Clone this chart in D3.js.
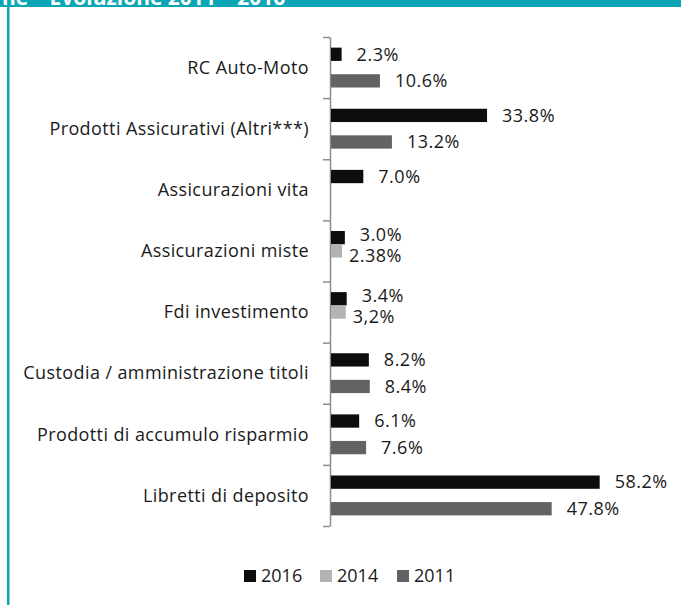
<!DOCTYPE html>
<html>
<head>
<meta charset="utf-8">
<script src="https://cdn.jsdelivr.net/npm/d3@7"></script>
<style>
  body { margin: 0; background: #fff; }
  svg { display: block; font-family: "Open Sans", sans-serif; }
</style>
</head>
<body>
<div id="chart"></div>
<script>
// chart data, top to bottom
let categories = [
  'RC Auto-Moto',
  'Prodotti Assicurativi (Altri***)',
  'Assicurazioni vita',
  'Assicurazioni miste',
  'Fdi investimento',
  'Custodia / amministrazione titoli',
  'Prodotti di accumulo risparmio',
  'Libretti di deposito'
];
let seriesNames = ['2016', '2014', '2011'];
let values2016 = [2.3, 33.8, 7.0, 3.0, 3.4, 8.2, 6.1, 58.2];
let values2014 = [null, null, null, 2.38, 3.2, null, null, null];
let values2011 = [10.6, 13.2, null, null, null, 8.4, 7.6, 47.8];
let labels2016 = ['2.3%', '33.8%', '7.0%', '3.0%', '3.4%', '8.2%', '6.1%', '58.2%'];
let labels2014 = [null, null, null, '2.38%', '3,2%', null, null, null];
let labels2011 = ['10.6%', '13.2%', null, null, null, '8.4%', '7.6%', '47.8%'];
let title = 'ne \u2013 Evoluzione 2011 \u2013 2016';

let colors = { '2016': '#0d0d0d', '2014': '#b3b3b3', '2011': '#636363' };

let svgWidth = 681;
let svgHeight = 605;

let svg = d3.select('#chart').append('svg')
  .attr('width', svgWidth)
  .attr('height', svgHeight);

// frame: teal band on top and teal rule on the left
svg.append('rect')
  .attr('x', 0).attr('y', 0)
  .attr('width', svgWidth).attr('height', 7)
  .attr('fill', '#0aa6b5');
svg.append('rect')
  .attr('x', 7).attr('y', 0)
  .attr('width', 2.5).attr('height', svgHeight)
  .attr('fill', '#0aa6b5');
// title is mostly clipped by the top edge, as in the source page
svg.append('text')
  .attr('x', 2).attr('y', 5)
  .attr('fill', '#fff')
  .attr('font-weight', 'bold')
  .attr('font-size', '21px')
  .text(title);

let axisX = 330;
let plotTop = 37, plotBottom = 526;

// build rows
let rows = categories.map((c, i) => ({
  category: c,
  bars: [
    { key: '2016', value: values2016[i], label: labels2016[i] },
    { key: '2014', value: values2014[i], label: labels2014[i] },
    { key: '2011', value: values2011[i], label: labels2011[i] }
  ]
}));

let yScale = d3.scaleBand()
  .domain(categories)
  .range([plotTop, plotBottom])
  .padding(0);

let ySub = d3.scaleBand()
  .domain(seriesNames)
  .range([0, yScale.bandwidth()])
  .paddingInner(0)
  .paddingOuter(0.8);

let xScale = d3.scaleLinear()
  .domain([0, 60])
  .range([axisX, axisX + 277]);

// axis with ticks on category boundaries
let tickScale = d3.scaleLinear()
  .domain([0, categories.length])
  .range([plotTop, plotBottom]);

let yAxis = svg.append('g')
  .attr('transform', `translate(${axisX}, 0)`)
  .call(d3.axisLeft(tickScale)
    .tickValues(d3.range(categories.length + 1))
    .tickSize(7)
    .tickSizeOuter(0)
    .tickFormat(''));
yAxis.selectAll('path, line')
  .attr('stroke', '#8c8c8c')
  .attr('stroke-width', 1.5);

// category labels
svg.selectAll('.catLabel')
  .data(categories)
  .enter()
  .append('text')
  .classed('catLabel', true)
  .attr('x', axisX - 21)
  .attr('y', d => yScale(d) + yScale.bandwidth() / 2)
  .attr('dy', '0.35em')
  .attr('text-anchor', 'end')
  .attr('font-size', '18px')
  .attr('letter-spacing', '0.4px')
  .attr('fill', '#1a1a1a')
  .text(d => d);

let rowGroups = svg.selectAll('.row')
  .data(rows)
  .enter()
  .append('g')
  .classed('row', true)
  .attr('transform', d => `translate(0, ${yScale(d.category)})`);

// bars
rowGroups.selectAll('rect')
  .data(d => d.bars.filter(b => b.value != null))
  .enter()
  .append('rect')
  .attr('x', xScale(0) + 1)
  .attr('y', d => ySub(d.key))
  .attr('width', d => xScale(d.value) - xScale(0))
  .attr('height', ySub.bandwidth())
  .attr('fill', d => colors[d.key]);

// value labels; nudge apart when two bars sit next to each other
rowGroups.each(function(row) {
  let present = row.bars.filter(b => b.value != null);
  present.forEach((b, j) => {
    let idx = seriesNames.indexOf(b.key);
    let prev = j > 0 ? present[j - 1] : null;
    let next = j < present.length - 1 ? present[j + 1] : null;
    let adjPrev = prev && seriesNames.indexOf(prev.key) === idx - 1;
    let adjNext = next && seriesNames.indexOf(next.key) === idx + 1;
    let dx = adjPrev ? 8 : 16;
    let dy = adjPrev ? 5 : (adjNext ? -3 : 0);
    d3.select(this).append('text')
      .attr('x', xScale(b.value) + dx)
      .attr('y', ySub(b.key) + ySub.bandwidth() / 2 + dy)
      .attr('dy', '0.35em')
      .attr('font-size', '18px')
      .attr('letter-spacing', '0.5px')
      .attr('fill', '#1a1a1a')
      .text(b.label);
  });
});

// legend
let legend = svg.append('g')
  .attr('transform', 'translate(244, 576)');
let legendX = [0, 76, 153];
let items = legend.selectAll('g')
  .data(seriesNames)
  .enter()
  .append('g')
  .attr('transform', (d, i) => `translate(${legendX[i]}, 0)`);
items.append('rect')
  .attr('x', 0).attr('y', -6)
  .attr('width', 12).attr('height', 12)
  .attr('fill', d => colors[d]);
items.append('text')
  .attr('x', 17)
  .attr('y', 0)
  .attr('dy', '0.35em')
  .attr('font-size', '18px')
  .attr('fill', '#1a1a1a')
  .text(d => d);
</script>
</body>
</html>
